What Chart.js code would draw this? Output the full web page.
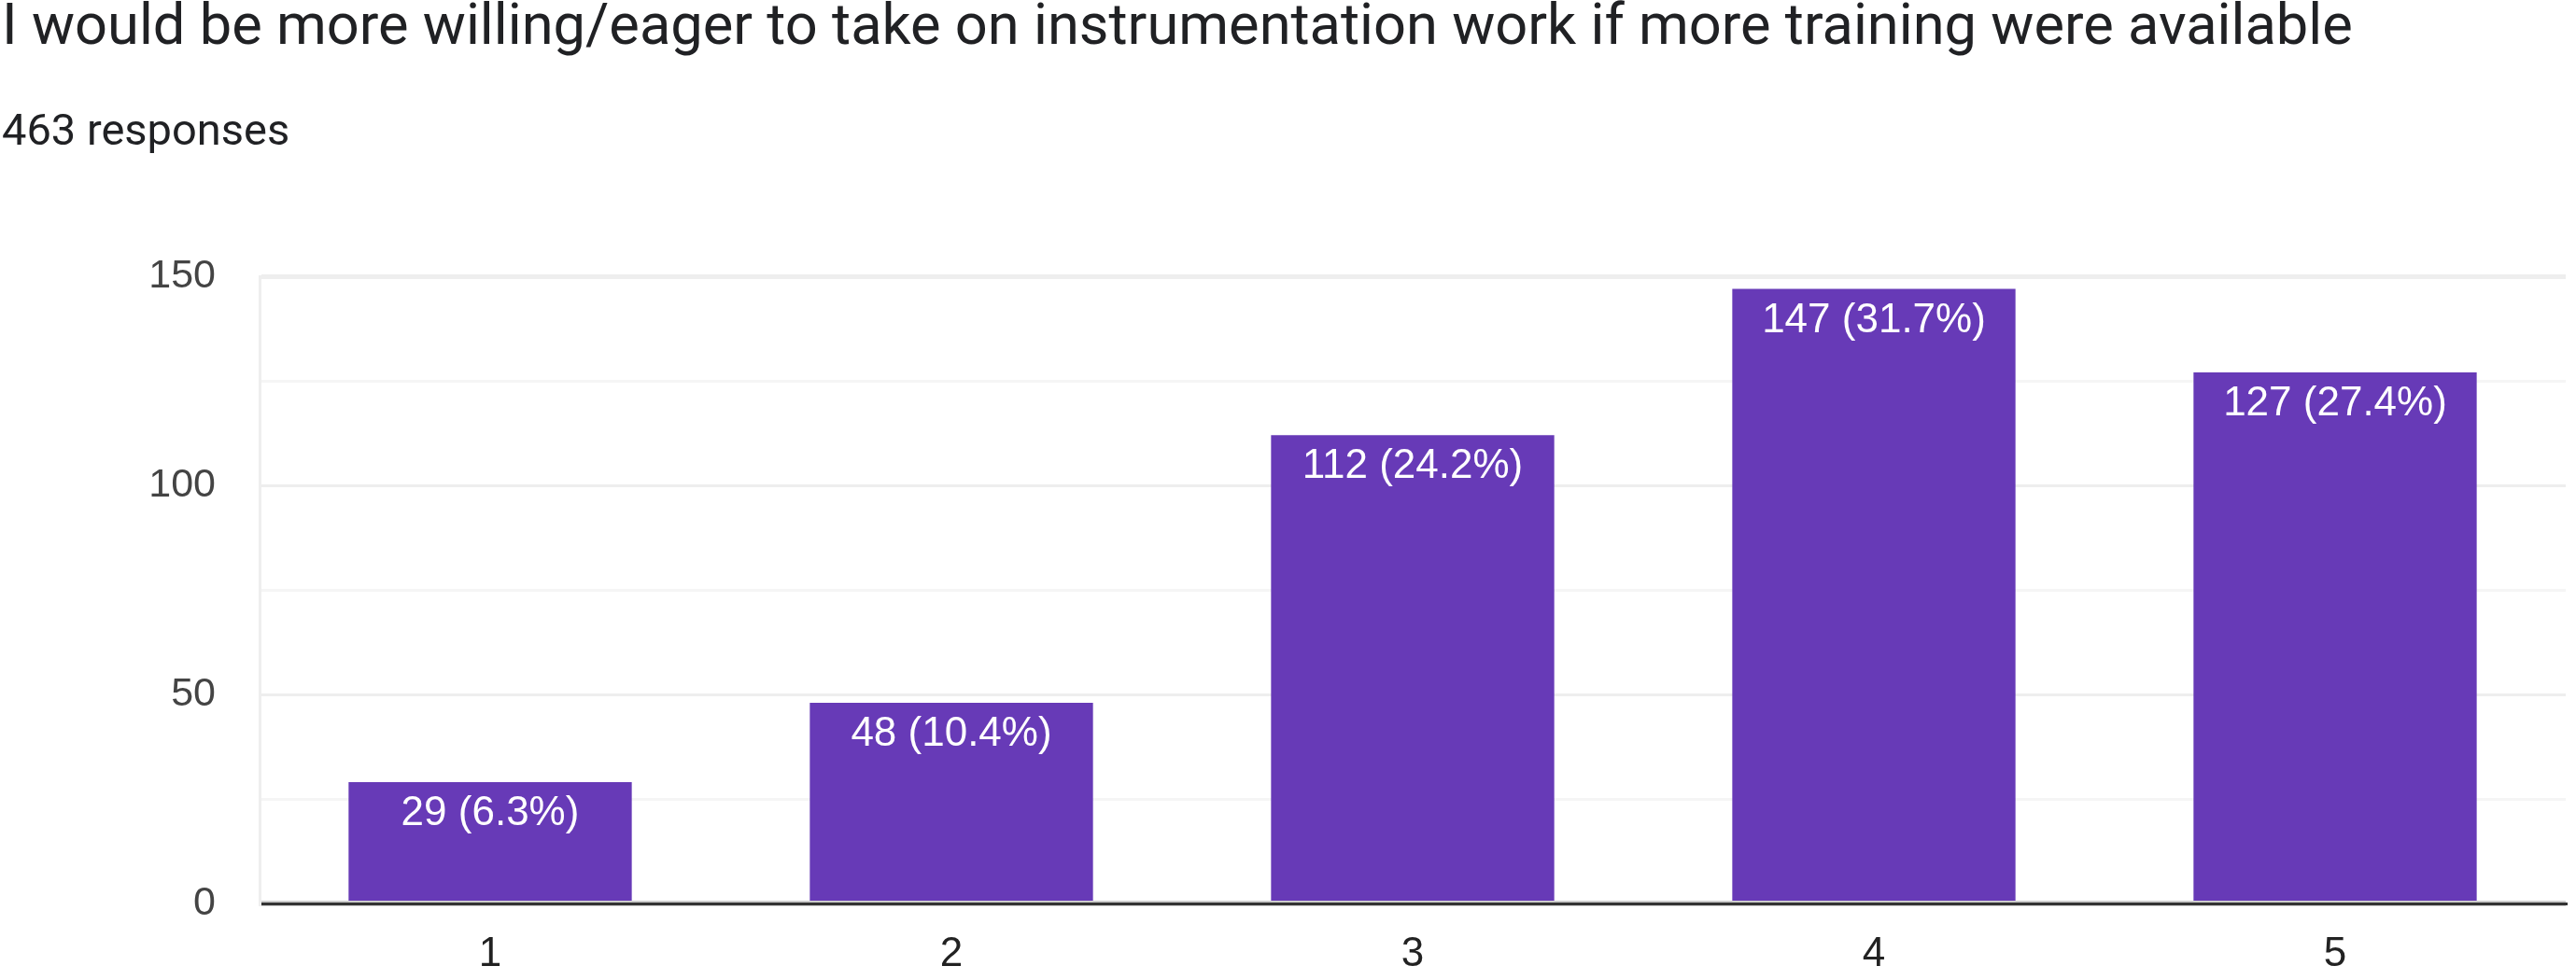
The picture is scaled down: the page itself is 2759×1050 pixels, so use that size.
<!DOCTYPE html>
<html>
<head>
<meta charset="utf-8">
<script src="https://cdn.jsdelivr.net/npm/chart.js@4/dist/chart.umd.min.js"></script>
<style>
  html, body { margin: 0; padding: 0; background: #ffffff; }
  #wrap { width: 2759px; height: 1050px; }
</style>
</head>
<body>
<div id="wrap"><canvas id="c" width="2759" height="1050"></canvas></div>
<script>
const titleText = 'I would be more willing/eager to take on instrumentation work if more training were available';
const subtitleText = '463 responses';
const categories = ['1', '2', '3', '4', '5'];
const counts = [29, 48, 112, 147, 127];
const percents = ['6.3%', '10.4%', '24.2%', '31.7%', '27.4%'];
const yTickValues = [0, 50, 100, 150];

const barLabels = {
  id: 'barLabels',
  afterDatasetsDraw(chart) {
    const ctx = chart.ctx;
    const meta = chart.getDatasetMeta(0);
    ctx.save();
    ctx.fillStyle = '#ffffff';
    ctx.font = '44px "Liberation Sans", Arial, sans-serif';
    ctx.textAlign = 'center';
    ctx.textBaseline = 'middle';
    meta.data.forEach((bar, i) => {
      ctx.fillText(counts[i] + ' (' + percents[i] + ')', bar.x, bar.y + 34);
    });
    ctx.restore();
  }
};

new Chart(document.getElementById('c'), {
  type: 'bar',
  data: {
    labels: categories,
    datasets: [{
      data: counts,
      backgroundColor: '#673ab7',
      borderWidth: 0,
      barPercentage: 0.614,
      categoryPercentage: 1.0
    }]
  },
  plugins: [barLabels],
  options: {
    responsive: false,
    animation: false,
    devicePixelRatio: 1,
    layout: { padding: { left: 2, right: 11, top: 0, bottom: 0 } },
    plugins: {
      legend: { display: false },
      tooltip: { enabled: false },
      title: {
        display: true,
        text: titleText,
        align: 'start',
        color: '#202124',
        font: { family: 'Roboto', size: 61.4, weight: 'normal', lineHeight: 1 },
        padding: { top: 1, bottom: 0 }
      },
      subtitle: {
        display: true,
        text: subtitleText,
        align: 'start',
        color: '#202124',
        font: { family: 'Roboto', size: 47, weight: 'normal', lineHeight: 1 },
        padding: { top: 57, bottom: 129.6 }
      }
    },
    scales: {
      x: {
        z: 1,
        offset: true,
        afterFit: (s) => { s.height = 82; },
        grid: {
          offset: true,
          drawTicks: false,
          lineWidth: 3,
          color: (c) => (c.index === 0 || c.index === categories.length) ? '#eeeeee' : 'rgba(0,0,0,0)'
        },
        border: { display: true, color: '#333333', width: 3 },
        ticks: {
          color: '#222222',
          padding: 28,
          font: { family: 'Liberation Sans', size: 44 }
        }
      },
      y: {
        min: 0,
        max: 150,
        afterFit: (s) => { s.width = 276; },
        grid: {
          drawTicks: false,
          lineWidth: (c) => {
            const v = c.tick ? c.tick.value : null;
            if (v === 150) return 5;
            if (v === 0) return 6;
            return 3;
          },
          color: (c) => {
            const v = c.tick ? c.tick.value : null;
            if (v === 0) return '#cccccc';
            if (yTickValues.includes(v)) return '#eeeeee';
            return '#f5f5f5';
          }
        },
        border: { display: true, color: '#eeeeee', width: 3 },
        ticks: {
          stepSize: 25,
          padding: 47,
          color: '#444444',
          font: { family: 'Liberation Sans', size: 43 },
          callback: (v) => yTickValues.includes(v) ? String(v) : ''
        }
      }
    }
  }
});
</script>
</body>
</html>
